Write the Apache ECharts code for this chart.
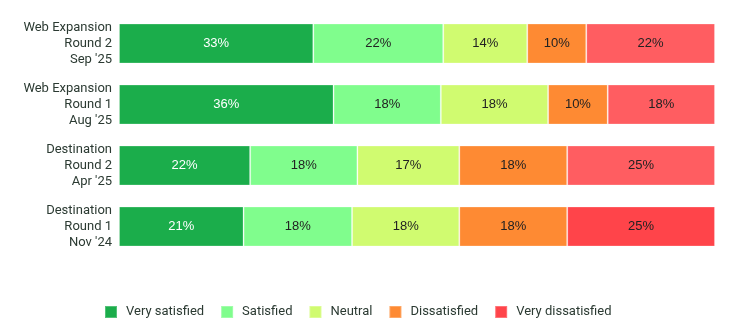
<!DOCTYPE html>
<html>
<head>
<meta charset="utf-8">
<script src="https://cdn.jsdelivr.net/npm/echarts@6/dist/echarts.min.js"></script>
<style>
html,body{margin:0;padding:0;background:#fff;}
#chart{width:740px;height:336px;}
</style>
</head>
<body>
<div id="chart"></div>
<script>
const categories = ["Web Expansion\nRound 2\nSep '25", "Web Expansion\nRound 1\nAug '25", "Destination\nRound 2\nApr '25", "Destination\nRound 1\nNov '24"];
const seriesNames = ["Very satisfied", "Satisfied", "Neutral", "Dissatisfied", "Very dissatisfied"];
const verySatisfied = [32.6, 36.0, 22.0, 20.9];
const satisfied = [21.8, 18.0, 18.0, 18.2];
const neutral = [14.1, 18.0, 17.1, 18.0];
const dissatisfied = [9.9, 10.0, 18.1, 18.1];
const veryDissatisfied = [21.6, 18.0, 24.8, 24.8];
const colors = ['#1bad4b', '#80fd8d', '#d0fb70', '#fe8a33', '#ff444a'];
const lightRed = '#ff5d61';

const values = [verySatisfied, satisfied, neutral, dissatisfied, veryDissatisfied];
const chart = echarts.init(document.getElementById('chart'));
const series = seriesNames.map((name, i) => ({
  name: name,
  type: 'bar',
  stack: 'total',
  barWidth: 40,
  data: values[i].map((v, j) => {
    const d = { value: v };
    if (i === 4 && j < 3) d.itemStyle = { color: lightRed };
    return d;
  }),
  itemStyle: { color: colors[i], borderColor: 'rgba(255,255,255,0.25)', borderWidth: 1 },
  label: {
    show: true,
    position: 'inside',
    formatter: p => Math.round(p.value) + '%',
    color: i === 0 ? '#ffffff' : '#222222',
    fontSize: 13,
    fontFamily: 'Liberation Sans'
  },
  emphasis: { disabled: true }
}));

chart.setOption({
  animation: false,
  color: colors,
  grid: { left: 119, right: 25, top: 13, bottom: 79, containLabel: false },
  xAxis: { type: 'value', min: 0, max: 100, show: false },
  yAxis: {
    type: 'category',
    data: categories,
    inverse: true,
    axisLine: { show: false },
    axisTick: { show: false },
    axisLabel: {
      margin: 7,
      fontSize: 13,
      lineHeight: 16,
      color: '#2b3a32',
      fontFamily: 'Roboto',
      align: 'right'
    }
  },
  legend: {
    data: seriesNames,
    left: 99,
    top: 300,
    itemWidth: 12,
    itemHeight: 12,
    itemGap: 16,
    icon: 'rect',
    textStyle: { fontSize: 13, color: '#2b3a32', fontFamily: 'Roboto', padding: [0, 0, 0, 4] }
  },
  series: series
});
</script>
</body>
</html>
